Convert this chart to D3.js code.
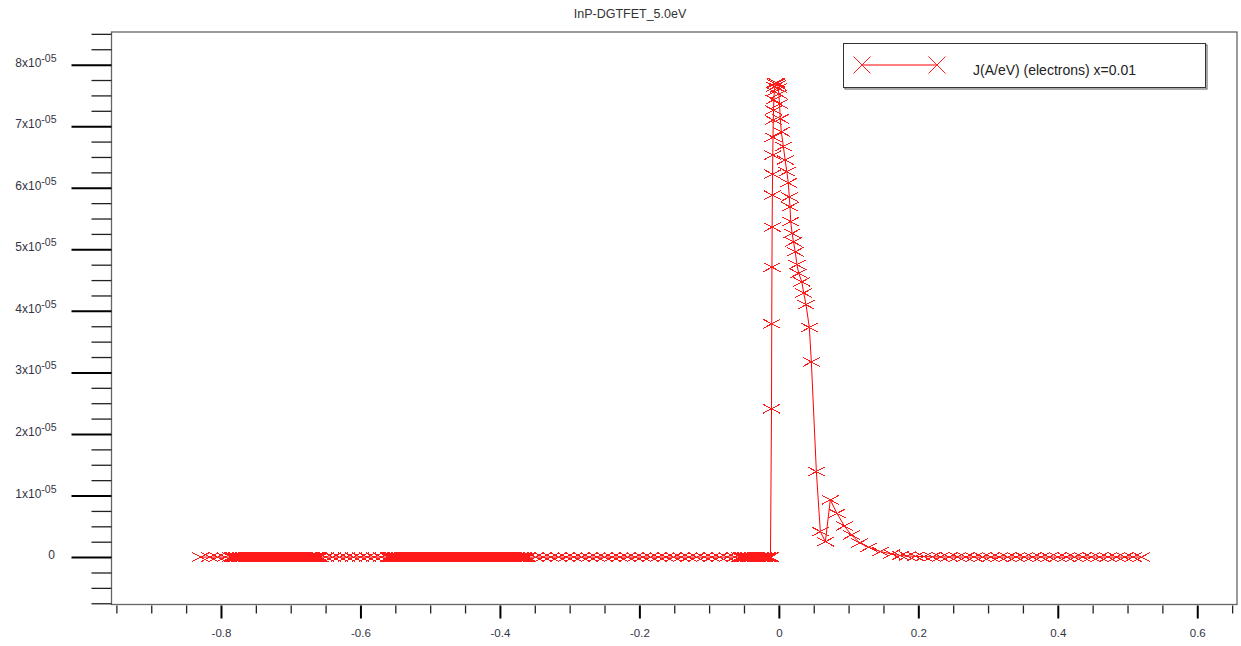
<!DOCTYPE html>
<html>
<head>
<meta charset="utf-8">
<script src="https://cdn.jsdelivr.net/npm/d3@7"></script>
<style>
  html, body { margin: 0; padding: 0; background: #fff; }
  svg { display: block; font-family: "Liberation Sans", Arial, sans-serif; }
</style>
</head>
<body>
<svg id="chart" width="1241" height="646"></svg>
<script>
// ---------------- DATA ----------------
const title = "InP-DGTFET_5.0eV";
const seriesName = "J(A/eV) (electrons) x=0.01";

// energies (eV) of the grid points where J = 0 (left of the peak)
const zeroEnergies = [
  -0.829, -0.816, -0.805, -0.794,
  -0.786, -0.784, -0.782, -0.780, -0.778, -0.776, -0.774, -0.772, -0.770, -0.768,
  -0.766, -0.764, -0.762, -0.760, -0.758, -0.756, -0.754, -0.752, -0.750, -0.748,
  -0.746, -0.744, -0.742, -0.740, -0.738, -0.736, -0.734, -0.732, -0.730, -0.728,
  -0.726, -0.724, -0.722, -0.720, -0.718, -0.716, -0.714, -0.712, -0.710, -0.708,
  -0.706, -0.704, -0.702, -0.700, -0.698, -0.696, -0.694, -0.692, -0.690, -0.688,
  -0.686, -0.684, -0.682, -0.680, -0.678, -0.676, -0.674, -0.672, -0.670, -0.668,
  -0.666, -0.664, -0.662, -0.660, -0.658,
  -0.650, -0.640, -0.630, -0.620, -0.610, -0.600, -0.590, -0.580, -0.570,
  -0.560, -0.558, -0.556, -0.554, -0.552, -0.550, -0.548, -0.546, -0.544, -0.542,
  -0.540, -0.538, -0.536, -0.534, -0.532, -0.530, -0.528, -0.526, -0.524, -0.522,
  -0.520, -0.518, -0.516, -0.514, -0.512, -0.510, -0.508, -0.506, -0.504, -0.502,
  -0.500, -0.498, -0.496, -0.494, -0.492, -0.490, -0.488, -0.486, -0.484, -0.482,
  -0.480, -0.478, -0.476, -0.474, -0.472, -0.470, -0.468, -0.466, -0.464, -0.462,
  -0.460, -0.458, -0.456, -0.454, -0.452, -0.450, -0.448, -0.446, -0.444, -0.442,
  -0.440, -0.438, -0.436, -0.434, -0.432, -0.430, -0.428, -0.426, -0.424, -0.422,
  -0.420, -0.418, -0.416, -0.414, -0.412, -0.410, -0.408, -0.406, -0.404, -0.402,
  -0.400, -0.398, -0.396, -0.394, -0.392, -0.390, -0.388, -0.386, -0.384, -0.382,
  -0.380, -0.378, -0.376, -0.374, -0.372, -0.370, -0.368, -0.366, -0.364, -0.362,
  -0.360,
  -0.349, -0.338, -0.327, -0.316, -0.305, -0.294, -0.283, -0.272, -0.261, -0.250,
  -0.239, -0.228, -0.217, -0.206, -0.195, -0.184, -0.173, -0.162, -0.151, -0.140,
  -0.129, -0.118, -0.107, -0.096, -0.085, -0.074, -0.063,
  -0.056, -0.054, -0.052, -0.050, -0.048, -0.046, -0.044, -0.042, -0.040, -0.038,
  -0.036, -0.034, -0.032, -0.030, -0.028, -0.026, -0.024, -0.022, -0.020, -0.018,
  -0.016, -0.014, -0.012
];

// peak region: energies (eV) and J in units of 1e-5 A/eV
const peakEnergies = [
  -0.0105, -0.0102, -0.0099, -0.0096, -0.0093, -0.0090, -0.0087, -0.0084, -0.0080, -0.0076,
  -0.0071, -0.0065, -0.0058, -0.0050, -0.0040, -0.0030, -0.0020, -0.0010, 0.0000, 0.0010,
  0.0020, 0.0035, 0.0065, 0.0090, 0.0115, 0.0135, 0.0150, 0.0160, 0.0170, 0.0190,
  0.0210, 0.0235, 0.0260, 0.0285, 0.0330, 0.0356, 0.0390, 0.0437, 0.0466, 0.0538,
  0.0595, 0.0667, 0.0738, 0.0834, 0.0939, 0.1040, 0.1160, 0.1290, 0.1455, 0.1620,
  0.1740
];
const peakJ = [
  2.41, 3.79, 4.71, 5.36, 5.88, 6.22, 6.53, 6.82, 7.10, 7.26,
  7.43, 7.56, 7.64, 7.69, 7.71, 7.70, 7.67, 7.62, 7.52, 7.36,
  7.12, 6.91, 6.67, 6.45, 6.26, 6.08, 5.85, 5.69, 5.45, 5.26,
  5.12, 4.96, 4.75, 4.61, 4.47, 4.29, 4.10, 3.73, 3.17, 1.39,
  0.415, 0.25, 0.93, 0.71, 0.506, 0.36, 0.23, 0.16, 0.09, 0.05,
  0.026
];

// tail region: energies (eV) and J in units of 1e-5 A/eV
const tailEnergies = [
  0.184, 0.196, 0.208, 0.220, 0.232, 0.244, 0.256, 0.268, 0.280, 0.292,
  0.304, 0.316, 0.328, 0.340, 0.352, 0.364, 0.376, 0.388, 0.400, 0.412,
  0.424, 0.436, 0.448, 0.460, 0.472, 0.484, 0.496, 0.508, 0.520
];
const tailJ = [
  0.018, 0.012, 0.008, 0.005, 0.003, 0.002, 0.001, 0, 0, 0,
  0, 0, 0, 0, 0, 0, 0, 0, 0, 0,
  0, 0, 0, 0, 0, 0, 0, 0, 0
];

const xTickValues = [-0.8, -0.6, -0.4, -0.2, 0, 0.2, 0.4, 0.6];
const xTickLabels = ["-0.8", "-0.6", "-0.4", "-0.2", "0", "0.2", "0.4", "0.6"];
const yTickMantissas = [0, 1, 2, 3, 4, 5, 6, 7, 8];
const yTickExponent = "-05";

// ---------------- CHART ----------------
const unit = 1e-5;
const data = []
  .concat(zeroEnergies.map(e => ({ e, j: 0 })))
  .concat(peakEnergies.map((e, i) => ({ e, j: peakJ[i] * unit })))
  .concat(tailEnergies.map((e, i) => ({ e, j: tailJ[i] * unit })));

const svg = d3.select("#chart");
const plot = { left: 111.5, top: 32, right: 1237, bottom: 604.5 };

const x = d3.scaleLinear().domain([-0.957, 0.657]).range([plot.left, plot.right]);
const y = d3.scaleLinear().domain([-0.77e-5, 8.53e-5]).range([plot.bottom, plot.top]);

// Title
svg.append("text")
  .attr("x", 630).attr("y", 18)
  .attr("text-anchor", "middle")
  .attr("font-size", 12.5)
  .attr("fill", "#333")
  .text(title);

// Frame
svg.append("rect")
  .attr("x", plot.left).attr("y", plot.top)
  .attr("width", plot.right - plot.left).attr("height", plot.bottom - plot.top)
  .attr("fill", "none").attr("stroke", "#666").attr("stroke-width", 1.3);

// Y axis ticks
const yMinor = d3.range(-0.75, 8.51, 0.25).map(v => v * unit)
  .filter(v => Math.abs(Math.round(v / unit) - v / unit) > 1e-6);
const yAxisMinor = d3.axisLeft(y).tickValues(yMinor).tickSize(20).tickFormat("");
const yAxisMajor = d3.axisLeft(y).tickValues(yTickMantissas.map(m => m * unit)).tickSize(40).tickFormat("");

const gyMinor = svg.append("g").attr("transform", `translate(${plot.left},0)`).call(yAxisMinor);
gyMinor.select(".domain").remove();
gyMinor.selectAll(".tick line").attr("stroke", "#222").attr("stroke-width", 1.3);
const gyMajor = svg.append("g").attr("transform", `translate(${plot.left},0)`).call(yAxisMajor);
gyMajor.select(".domain").remove();
gyMajor.selectAll(".tick line").attr("stroke", "#000").attr("stroke-width", 2);

// Y labels with superscript
const yLab = svg.append("g");
yTickMantissas.forEach(m => {
  const t = yLab.append("text")
    .attr("x", m === 0 ? 55 : 56.5)
    .attr("y", y(m * unit) + 2)
    .attr("text-anchor", "end")
    .attr("font-size", 12)
    .attr("fill", "#334");
  if (m === 0) {
    t.text("0");
  } else {
    t.append("tspan").text(m + "x10");
    t.append("tspan").attr("dy", -5).attr("font-size", 10.5).text(yTickExponent);
  }
});

// X axis ticks
const xMinor = d3.range(-0.95, 0.651, 0.05)
  .filter(v => Math.abs(Math.round(v * 5) - v * 5) > 1e-6);
const xAxisMinor = d3.axisBottom(x).tickValues(xMinor).tickSize(8).tickFormat("");
const xAxisMajor = d3.axisBottom(x).tickValues(xTickValues).tickSize(13)
  .tickFormat((d, i) => xTickLabels[i]).tickPadding(10);

const gxMinor = svg.append("g").attr("transform", `translate(0,${plot.bottom + 1})`).call(xAxisMinor);
gxMinor.select(".domain").remove();
gxMinor.selectAll(".tick line").attr("stroke", "#222").attr("stroke-width", 1.3);
const gxMajor = svg.append("g").attr("transform", `translate(0,${plot.bottom + 1})`).call(xAxisMajor);
gxMajor.select(".domain").remove();
gxMajor.selectAll(".tick line").attr("stroke", "#000").attr("stroke-width", 2);
gxMajor.selectAll(".tick text")
  .attr("font-size", 11.5).attr("fill", "#334")
  .attr("font-family", "'Liberation Sans', Arial, sans-serif");

// Series line
svg.append("clipPath").attr("id", "clip")
  .append("rect").attr("x", plot.left).attr("y", plot.top)
  .attr("width", plot.right - plot.left).attr("height", plot.bottom - plot.top);

const g = svg.append("g").attr("clip-path", "url(#clip)");
g.append("path")
  .datum(data)
  .attr("fill", "none")
  .attr("stroke", "#ff0000")
  .attr("stroke-width", 1)
  .attr("d", d3.line().x(d => x(d.e)).y(d => y(d.j)));

// Cross markers
const mw = 8.5, mh = 4.5;
g.append("g").selectAll("path")
  .data(data)
  .join("path")
  .attr("transform", d => `translate(${x(d.e)},${y(d.j)})`)
  .attr("d", `M${-mw},${-mh}L${mw},${mh}M${-mw},${mh}L${mw},${-mh}`)
  .attr("fill", "none")
  .attr("stroke", "#ff1a1a")
  .attr("stroke-width", 1)
  .attr("shape-rendering", "crispEdges");

// Legend
const lg = svg.append("g");
const lx = 843.5, ly = 43.5, lw = 362, lh = 44;
lg.append("rect").attr("x", lx + 1.5).attr("y", ly + 1.5).attr("width", lw).attr("height", lh)
  .attr("fill", "none").attr("stroke", "#555").attr("stroke-width", 1);
lg.append("rect").attr("x", lx).attr("y", ly).attr("width", lw).attr("height", lh)
  .attr("fill", "#fff").attr("stroke", "#333").attr("stroke-width", 1);
const lyMid = 65;
lg.append("line").attr("x1", 862).attr("x2", 937).attr("y1", lyMid).attr("y2", lyMid)
  .attr("stroke", "#ff0000").attr("stroke-width", 1);
[862, 937].forEach(cx => {
  lg.append("path")
    .attr("transform", `translate(${cx},${lyMid})`)
    .attr("d", "M-8.5,-8.5L8.5,8.5M-8.5,8.5L8.5,-8.5")
    .attr("stroke", "#ff2020").attr("stroke-width", 1).attr("fill", "none");
});
lg.append("text").attr("x", 973).attr("y", 75)
  .attr("font-size", 14).attr("fill", "#222")
  .text(seriesName);
</script>
</body>
</html>
